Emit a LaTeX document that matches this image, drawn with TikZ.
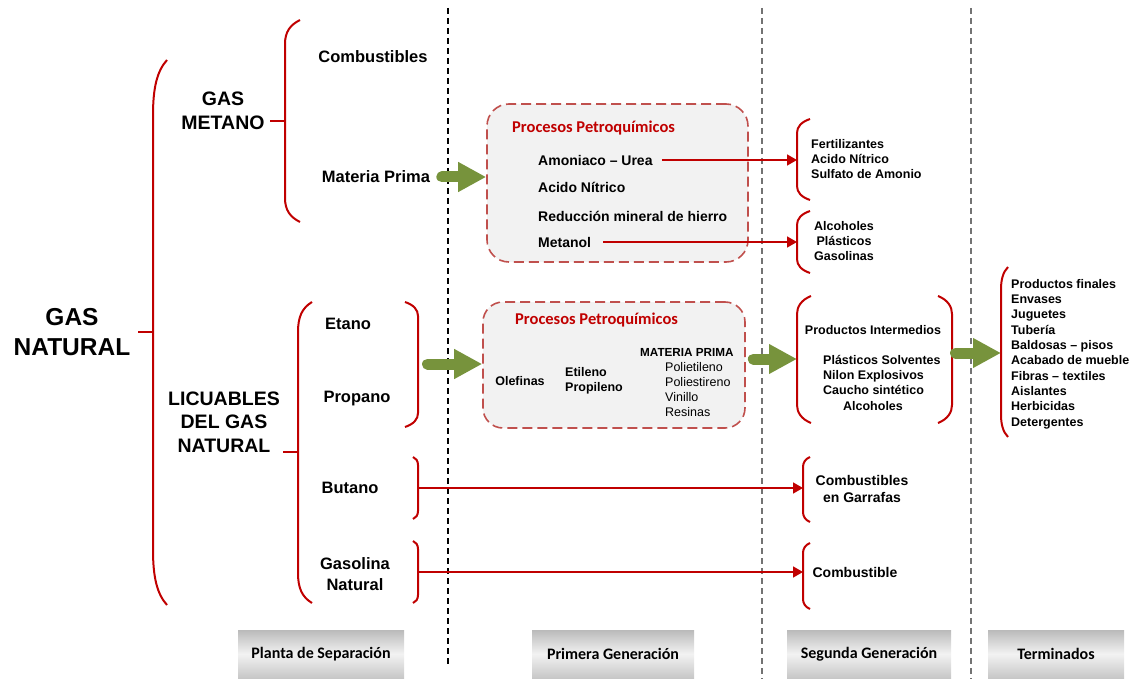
\documentclass[tikz,border=0pt]{standalone}
\usepackage{fontspec}
\setmainfont{Liberation Sans}
\newfontfamily\calibri{Carlito}
\usepackage{tikz}
\usetikzlibrary{arrows.meta, % for the arrow tips
                calc,
                positioning}

\definecolor{brred}{RGB}{192,0,0}
\definecolor{boxred}{RGB}{192,80,77}
\definecolor{arrgreen}{RGB}{119,147,60}
\definecolor{boxgray}{RGB}{242,242,242}

\begin{document}
\begin{tikzpicture}[x=1pt, y=-1pt,
                    bracket/.style={draw=brred, line width=2pt},
                    redarrow/.style={-{Triangle[length=10pt,width=11pt]}, draw=brred, line width=1.6pt},
                    bigarrow/.style={-{Triangle[length=28pt,width=28pt]}, draw=arrgreen, line width=11pt, line cap=round},
                    procbox/.style={draw=boxred, fill=boxgray, line width=1.6pt, dash pattern=on 10pt off 5pt, rounded corners=22pt},
                    sepline/.style={line width=1.2pt, dash pattern=on 6pt off 4pt},
                    hugelbl/.style={font=\fontsize{24.5}{30}\selectfont\bfseries, align=center, inner sep=0},
                    biglbl/.style={font=\fontsize{19.5}{23.5}\selectfont\bfseries, align=center, inner sep=0},
                    lbl/.style={font=\fontsize{16.5}{21}\selectfont\bfseries, align=center, inner sep=0},
                    procitem/.style={font=\fontsize{14}{17}\selectfont\bfseries, anchor=west, inner sep=0},
                    listtxt/.style={font=\fontsize{12.5}{15}\selectfont\bfseries, inner sep=0},
                    plaintxt/.style={font=\fontsize{12.5}{15}\selectfont, align=left, anchor=west, inner sep=0},
                    proctitle/.style={font=\calibri\fontsize{16.5}{20}\selectfont\bfseries, text=brred, anchor=west, inner sep=0},
                    stage/.style={font=\calibri\fontsize{16}{19}\selectfont\bfseries, minimum height=48pt, inner sep=0,
                                  top color=black!27, bottom color=black!22, middle color=black!5}
                    ]
    \useasboundingbox (0,0) rectangle (1132,679);

    % stage separators
    \draw[sepline, black] (448,8) -- (448,665);
    \draw[sepline, black!55] (762,8) -- (762,679);
    \draw[sepline, black!55] (971,8) -- (971,679);

    % left labels
    \node[hugelbl] (gasnat)   at (72,332)  {GAS\\NATURAL};
    \node[biglbl]  (gasmet)   at (223,111) {GAS\\METANO};
    \node[biglbl]  (licu)     at (224,422) {LICUABLES\\DEL GAS\\NATURAL};
    \node[lbl]     (combust)  at (373,57)  {Combustibles};
    \node[lbl]     (materia)  at (376,177) {Materia Prima};
    \node[lbl]     (etano)    at (348,324) {Etano};
    \node[lbl]     (propano)  at (357,399) {Propano};
    \node[lbl]     (butano)   at (350,488) {Butano};
    \node[lbl]     (gasolina) at (355,574) {Gasolina\\Natural};

    % brackets
    \draw[bracket] (167,60) .. controls (157,71) and (153,88) .. (153,115) -- (153,550) .. controls (153,577) and (157,594) .. (167,605);
    \draw[bracket] (300,20) .. controls (290,25) and (285,32) .. (285,44) -- (285,198) .. controls (285,210) and (290,217) .. (300,222);
    \draw[bracket] (312,302) .. controls (302,308) and (298,317) .. (298,332) -- (298,573) .. controls (298,588) and (302,597) .. (312,603);
    \draw[bracket] (405,302) .. controls (414,305) and (418,310) .. (418,316) -- (418,413) .. controls (418,419) and (414,424) .. (405,427);
    \draw[bracket] (413,457) .. controls (416,458) and (418,461) .. (418,465) -- (418,511) .. controls (418,515) and (416,518) .. (413,519);
    \draw[bracket] (413,541) .. controls (416,542) and (418,545) .. (418,549) -- (418,595) .. controls (418,599) and (416,602) .. (413,603);
    \draw[bracket] (810,119) .. controls (801,122) and (797,127) .. (797,133) -- (797,186) .. controls (797,192) and (801,197) .. (810,200);
    \draw[bracket] (810,211) .. controls (801,214) and (797,219) .. (797,225) -- (797,259) .. controls (797,265) and (801,270) .. (810,273);
    \draw[bracket] (810,457) .. controls (805,459) and (803,463) .. (803,467) -- (803,512) .. controls (803,516) and (805,520) .. (810,522);
    \draw[bracket] (810,543) .. controls (805,545) and (803,549) .. (803,553) -- (803,599) .. controls (803,603) and (805,607) .. (810,609);
    \draw[bracket] (811,296) .. controls (801,300) and (797,307) .. (797,314) -- (797,405) .. controls (797,412) and (801,419) .. (811,423);
    \draw[bracket] (938,296) .. controls (948,300) and (952,307) .. (952,314) -- (952,405) .. controls (952,412) and (948,419) .. (938,423);
    \draw[bracket] (1008,267) .. controls (1003,272) and (1001,280) .. (1001,289) -- (1001,415) .. controls (1001,424) and (1003,432) .. (1008,437);

    % bracket points
    \coordinate (natmid) at (153,332);
    \coordinate (metmid) at (285,121);
    \coordinate (liqmid) at (298,452);
    \coordinate (epout)  at (418,364);
    \coordinate (butout) at (418,488);
    \coordinate (gasout) at (418,572);
    \coordinate (fertin) at (797,160);
    \coordinate (alcin)  at (797,242);
    \coordinate (garrin) at (803,488);
    \coordinate (combin) at (803,572);
    \coordinate (intin)  at (797,359);
    \coordinate (intout) at (952,353);
    \coordinate (finin)  at (1001,353);

    \draw[bracket] (natmid) -- ++(-15,0);
    \draw[bracket] (metmid) -- ++(-15,0);
    \draw[bracket] (liqmid) -- ++(-15,0);

    % first generation, methane
    \node[procbox, minimum width=261pt, minimum height=158pt] (proc1) at (617.5,183) {};
    \node[proctitle] (title1)  at (512,128) {Procesos Petroquímicos};
    \node[procitem]  (amon)    at (538,160) {Amoniaco – Urea};
    \node[procitem]  (nitrico) at (538,187) {Acido Nítrico};
    \node[procitem]  (hierro)  at (538,216) {Reducción mineral de hierro};
    \node[procitem]  (metanol) at (538,242) {Metanol};

    \node[listtxt, align=left, anchor=west] (fert) at (811,159) {Fertilizantes\\Acido Nítrico\\Sulfato de Amonio};
    \node[listtxt, align=center] (alco) at (844,241) {Alcoholes\\Plásticos\\Gasolinas};

    % first generation, liquids
    \node[procbox, rounded corners=20pt, minimum width=262pt, minimum height=126pt] (proc2) at (614,365) {};
    \node[proctitle] (title2) at (515,320) {Procesos Petroquímicos};
    \node[listtxt] (olef) at (520,381) {Olefinas};
    \node[listtxt, align=left, anchor=west] (etil) at (565,380.5) {Etileno\\Propileno};
    \node[listtxt, font=\fontsize{11.7}{14}\selectfont\bfseries, anchor=west] (mprima) at (640,352) {MATERIA PRIMA};
    \node[plaintxt] (polim) at (665,389.5) {Polietileno\\Poliestireno\\Vinillo\\Resinas};

    % second generation
    \node[listtxt] (interm) at (873,330) {Productos Intermedios};
    \node[listtxt, align=left, anchor=west] (plast) at (823,375) {Plásticos Solventes\\Nilon Explosivos\\Caucho sintético};
    \node[listtxt] (alco2) at (873,406) {Alcoholes};
    \node[listtxt, font=\fontsize{14}{17}\selectfont\bfseries, align=center] (garraf) at (862,489) {Combustibles\\en Garrafas};
    \node[listtxt, font=\fontsize{14}{17}\selectfont\bfseries] (combble) at (855,572) {Combustible};

    % finished goods
    \node[listtxt, font=\fontsize{12.5}{15.3}\selectfont\bfseries, align=left, anchor=west] (finales) at (1011,354)
        {Productos finales\\Envases\\Juguetes\\Tubería\\Baldosas – pisos\\Acabado de mueble\\Fibras – textiles\\Aislantes\\Herbicidas\\Detergentes};

    % red arrows
    \draw[redarrow, shorten <=9pt]  (amon.east)    -- (fertin);
    \draw[redarrow, shorten <=12pt] (metanol.east) -- (alcin);
    \draw[redarrow] (butout) -- (garrin);
    \draw[redarrow] (gasout) -- (combin);

    % green arrows
    \draw[bigarrow, shorten <=11.5pt] (materia.east) -- (materia.east -| proc1.west);
    \draw[bigarrow, shorten <=9.5pt]  (epout) -- (epout -| proc2.west);
    \draw[bigarrow, shorten <=7.5pt]  (proc2.east |- intin) -- (intin);
    \draw[bigarrow, shorten <=3.5pt]  (intout) -- (finin);

    % stage labels
    \node[stage, minimum width=166pt] (planta)  at (321,654)  {Planta de Separación};
    \node[stage, minimum width=162pt] (primera) at (613,654)  {Primera Generación};
    \node[stage, minimum width=164pt] (segunda) at (869,654)  {Segunda Generación};
    \node[stage, minimum width=136pt] (termin)  at (1056,654) {Terminados};

\end{tikzpicture}
\end{document}
